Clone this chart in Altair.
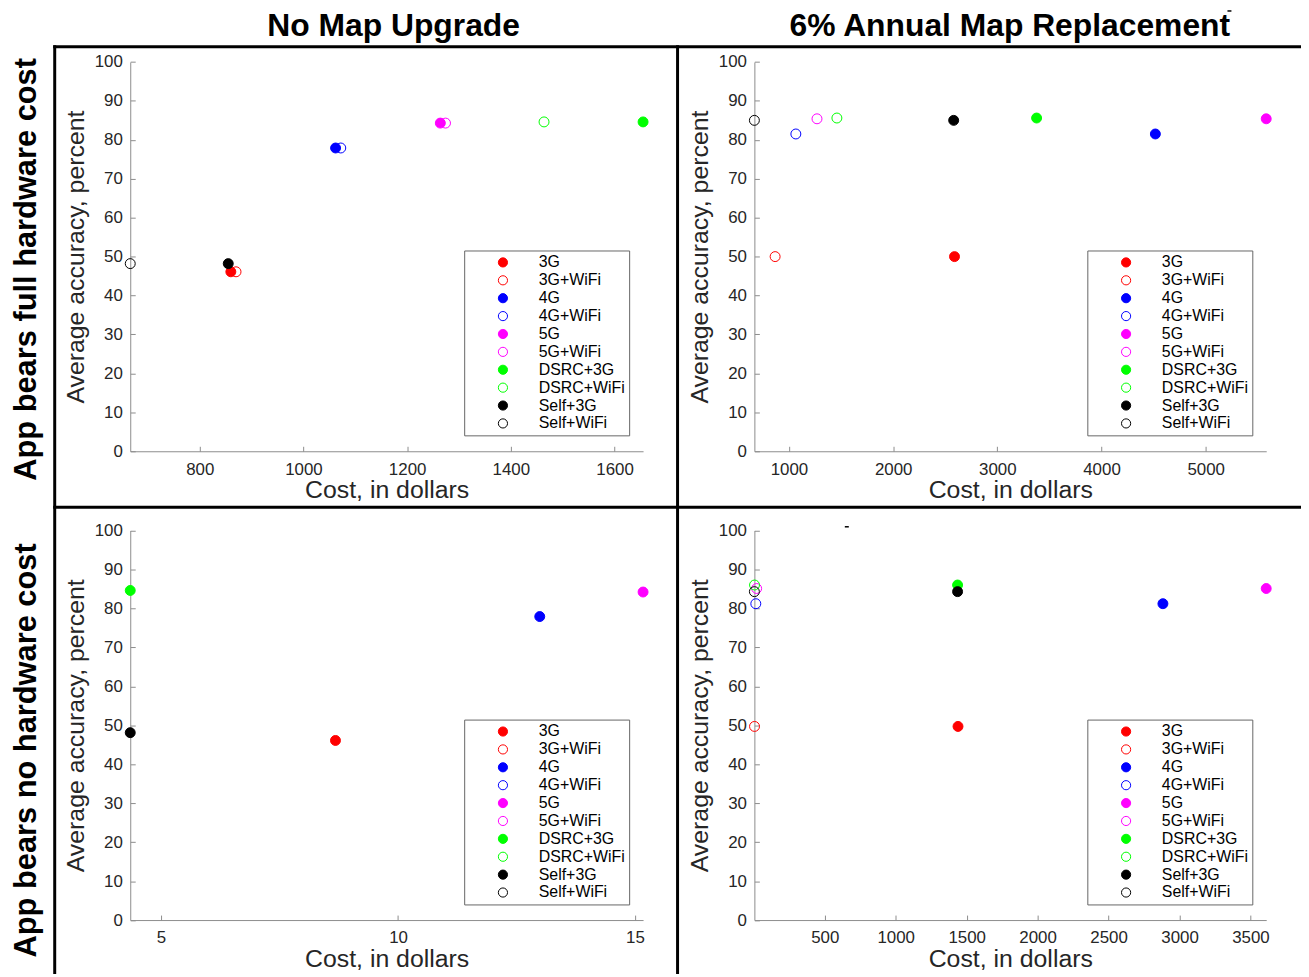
import altair as alt
import pandas as pd

# ---------------- data ----------------
series = ["3G", "3G+WiFi", "4G", "4G+WiFi", "5G", "5G+WiFi",
          "DSRC+3G", "DSRC+WiFi", "Self+3G", "Self+WiFi"]
line_colors = ["#ff0000", "#ff0000", "#0000ff", "#0000ff", "#ff00ff", "#ff00ff",
               "#00ff00", "#00ff00", "#000000", "#000000"]
fill_colors = ["#ff0000", "transparent", "#0000ff", "transparent", "#ff00ff", "transparent",
               "#00ff00", "transparent", "#000000", "transparent"]

# top-left: No Map Upgrade, app bears full hardware cost
p1_cost = [860, 870, 1062, 1072, 1264, 1274, 1655, 1464, 855, 666]
p1_acc = [46.1, 46.1, 77.9, 77.9, 84.3, 84.3, 84.6, 84.6, 48.2, 48.2]
# top-right: 6% Annual Map Replacement, full hardware cost
p2_cost = [2589, 867, 4517, 1066, 5581, 1269, 3377, 1460, 2581, 668]
p2_acc = [50.0, 50.0, 81.5, 81.5, 85.4, 85.4, 85.6, 85.6, 85.0, 85.0]
# bottom-left: No Map Upgrade, no hardware cost
p3_series = ["3G", "4G", "5G", "DSRC+3G", "Self+3G"]
p3_cost = [8.68, 12.99, 15.17, 4.35, 4.35]
p3_acc = [46.1, 77.9, 84.2, 84.6, 48.1]
# bottom-right: 6% Annual Map Replacement, no hardware cost
p4_cost = [1439, 5, 2883, 14, 3611, 20, 1436, 5, 1436, 4]
p4_acc = [49.7, 49.7, 81.2, 81.2, 85.1, 85.1, 86.0, 86.0, 84.3, 84.3]

x_ticks_1 = [800, 1000, 1200, 1400, 1600]
x_ticks_2 = [1000, 2000, 3000, 4000, 5000]
x_ticks_3 = [5, 10, 15]
x_ticks_4 = [500, 1000, 1500, 2000, 2500, 3000, 3500]
y_ticks = [0, 10, 20, 30, 40, 50, 60, 70, 80, 90, 100]

col_titles = ["No Map Upgrade", "6% Annual Map Replacement"]
row_titles = ["App bears full hardware cost", "App bears no hardware cost"]
x_title = "Cost, in dollars"
y_title = "Average accuracy, percent"

# ---------------- layout / style ----------------
FONT = "Liberation Sans"
AX = "#8c8c8c"
TXT = "#262626"
W, H = 1301, 969

LEFT_X = [123, 639]
RIGHT_X = [751, 1266]
TOP_Y = [443, 51.3]
BOT_Y = [914.7, 522.7]


def panel(names, costs, accs, xr, yr, xticks, lx, ly):
    df = pd.DataFrame({"series": names, "cost": costs, "acc": accs})
    common = dict(domainColor=AX, tickColor=AX, domainWidth=1, tickWidth=1,
                  tickSize=alt.ExprRef(expr="-5"),
                  labelFont=FONT, labelFontSize=17, labelColor=TXT,
                  titleFont=FONT, titleFontSize=25, titleColor=TXT,
                  titleFontWeight="normal", grid=False, labelFlush=False,
                  labelOverlap=False, titleBaseline="alphabetic", format="d")
    x = alt.X("cost:Q",
              scale=alt.Scale(domain=[min(costs), max(costs)], range=xr,
                              nice=False, zero=False),
              axis=alt.Axis(orient="bottom", offset=yr[0] - H, values=xticks,
                            title=x_title, titleY=47, labelPadding=15, **common))
    y = alt.Y("acc:Q",
              scale=alt.Scale(domain=[0, 100], range=yr, nice=False, zero=False),
              axis=alt.Axis(orient="left", offset=-xr[0], values=y_ticks,
                            title=y_title, titleX=-47, labelPadding=13, **common))
    leg = alt.Legend(orient="none", legendX=lx, legendY=ly, title=None,
                     direction="vertical", padding=4, symbolType="circle",
                     symbolSize=85, symbolStrokeWidth=1, symbolOffset=27,
                     labelOffset=28, labelFont=FONT, labelFontSize=16,
                     labelColor="#000000", strokeColor="#666666",
                     fillColor="white", rowPadding=2, labelLimit=300)
    return alt.Chart(df).mark_point(shape="circle", size=100, strokeWidth=1,
                                    opacity=1).encode(
        x=x, y=y,
        fill=alt.Fill("series:N", scale=alt.Scale(domain=series, range=fill_colors),
                      legend=leg),
        stroke=alt.Stroke("series:N", scale=alt.Scale(domain=series, range=line_colors),
                          legend=leg),
    )


one = pd.DataFrame({"k": [0]})


def hrule(y, x0, x1, w=3):
    return alt.Chart(one).mark_rule(color="black", strokeWidth=w).encode(
        x=alt.value(x0), x2=alt.value(x1), y=alt.value(y))


def vrule(x, y0, y1, w=3):
    return alt.Chart(one).mark_rule(color="black", strokeWidth=w).encode(
        x=alt.value(x), y=alt.value(y0), y2=alt.value(y1))


def label(text, x, y, angle=0, size=32):
    return alt.Chart(pd.DataFrame({"t": [text]})).mark_text(
        font=FONT, fontSize=size, fontWeight="bold", color="black",
        align="center", baseline="alphabetic", angle=angle).encode(
        text="t:N", x=alt.value(x), y=alt.value(y))


p1 = panel(series, p1_cost, p1_acc, LEFT_X, TOP_Y, x_ticks_1, 459, 241)
p2 = panel(series, p2_cost, p2_acc, RIGHT_X, TOP_Y, x_ticks_2, 1086, 241)
p3 = panel(p3_series, p3_cost, p3_acc, LEFT_X, BOT_Y, x_ticks_3, 459, 713)
p4 = panel(series, p4_cost, p4_acc, RIGHT_X, BOT_Y, x_ticks_4, 1086, 713)

chart = alt.layer(
    hrule(36, 45.5, W), vrule(47, 34.5, H), vrule(673.7, 34.5, H), hrule(499.3, 45.5, W),
    hrule(519, 842, 846, 1.5), hrule(0, 1227, 1231, 1.5),
    label(col_titles[0], 388, 25), label(col_titles[1], 1008, 25),
    label(row_titles[0], 28, 260, 270, 31), label(row_titles[1], 28, 744, 270, 31),
    p1, p2, p3, p4,
).resolve_scale(
    x="independent", y="independent", fill="independent", stroke="independent"
).resolve_axis(
    x="independent", y="independent"
).resolve_legend(
    fill="independent", stroke="independent"
).properties(
    width=W, height=H, padding=0, autosize=alt.AutoSizeParams(type="none"),
    background="white"
).configure_view(stroke=None)

chart.save("out.html", embed_options={"renderer": "svg", "actions": False})
